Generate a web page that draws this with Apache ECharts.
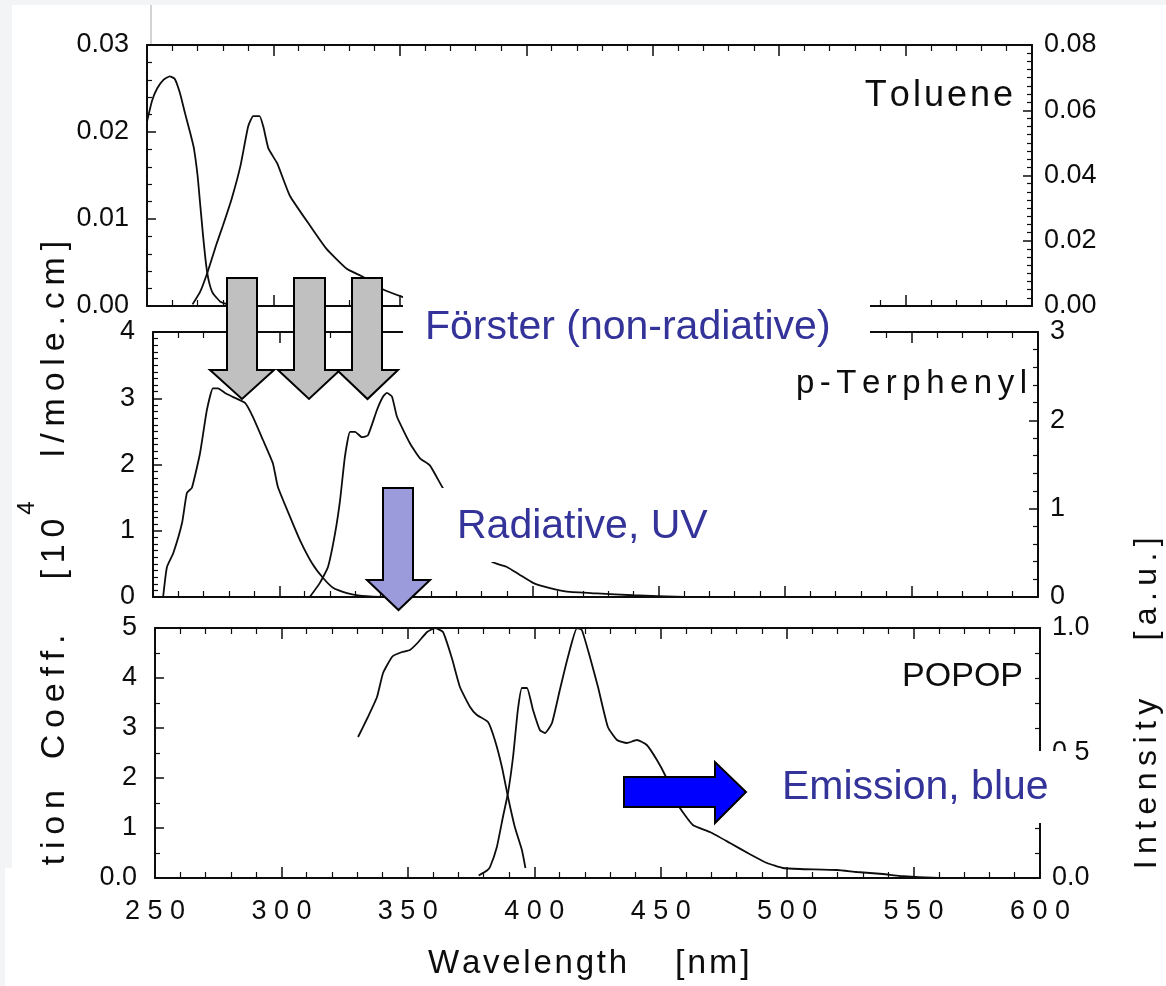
<!DOCTYPE html>
<html>
<head>
<meta charset="utf-8">
<title>Toluene / p-Terphenyl / POPOP spectra</title>
<script src="https://cdn.jsdelivr.net/npm/echarts@6/dist/echarts.min.js"></script>
<style>
  html, body { margin: 0; padding: 0; background: #f3f4f6; }
  #chart { width: 1166px; height: 986px; }
</style>
</head>
<body>
<div id="chart"></div>
<script>
// tick labels
const wavelengthTicks = ['2 5 0', '3 0 0', '3 5 0', '4 0 0', '4 5 0', '5 0 0', '5 5 0', '6 0 0']
const tolueneAbsTicks = ['0.00', '0.01', '0.02', '0.03']
const tolueneEmTicks = ['0.00', '0.02', '0.04', '0.06', '0.08']
const terphenylAbsTicks = ['0', '1', '2', '3', '4']
const terphenylEmTicks = ['0', '1', '2', '3']
const popopAbsTicks = ['0.0', '1', '2', '3', '4', '5']
const popopEmTicks = ['0.0', '0.5', '1.0']

// [wavelength nm, value]
const tolueneAbs = [[250, 0.0212], [252, 0.0236], [254, 0.025], [256.5, 0.026], [259, 0.0264], [261, 0.0261],
  [263, 0.0245], [265, 0.0222], [267, 0.02], [268.5, 0.0182], [270, 0.015], [271, 0.0118], [272.2, 0.008],
  [273.4, 0.0047], [274.5, 0.0028], [276, 0.0015], [279, 0.0005], [283, 0.0001], [290, 0]]
const tolueneEm = [[268, 0.0005], [271, 0.0043], [274, 0.0105], [277.5, 0.019], [280, 0.0246], [283.5, 0.0329],
  [287, 0.0431], [290, 0.055], [292, 0.0582], [294.5, 0.0582], [296, 0.055], [298, 0.0483], [301.5, 0.0437],
  [306.5, 0.0338], [314.5, 0.0246], [321, 0.0175], [329, 0.0114], [335.5, 0.0089], [343, 0.0052],
  [351, 0.0028], [358, 0.0012], [365, 0.0004], [375, 0]]
const terphenylAbs = [[254, 0], [255.5, 0.45], [258, 0.66], [261.5, 1.12], [263.4, 1.57], [265.4, 1.65],
  [268.6, 2.17], [271.3, 2.82], [273.7, 3.15], [275.7, 3.15], [278.5, 3.08], [281.6, 3.02], [286.4, 2.93],
  [289.5, 2.72], [293.5, 2.37], [297.4, 2.02], [299.4, 1.66], [304.2, 1.21], [308.1, 0.86], [312.9, 0.51],
  [317.2, 0.29], [321.2, 0.14], [326.7, 0.06], [331.8, 0.02], [340, 0]]
const terphenylEm = [[312, 0], [316, 0.16], [319.2, 0.34], [322, 0.72], [324, 1.1], [325.9, 1.59], [327.9, 1.87],
  [329.9, 1.87], [332.6, 1.81], [335, 1.83], [338.6, 2.12], [341, 2.27], [342.5, 2.31], [344.5, 2.27],
  [346.5, 2.04], [351.6, 1.74], [355.6, 1.57], [359.5, 1.49], [364.7, 1.23], [374, 0.83], [384, 0.4],
  [390, 0.34], [395.1, 0.25], [400.3, 0.16], [407, 0.1], [413.7, 0.06], [425.6, 0.04], [439.8, 0.02], [460, 0]]
const popopAbs = [[330.3, 2.82], [334.2, 3.22], [337.8, 3.62], [340.2, 4.1], [343.9, 4.43], [347.7, 4.52],
  [350.8, 4.56], [353.8, 4.7], [357.6, 4.92], [360.7, 5.0], [363.9, 4.92], [367.4, 4.4], [370.6, 3.82],
  [374.6, 3.42], [377.3, 3.26], [381.7, 3.12], [384.4, 2.76], [387.2, 2.22], [389.6, 1.62], [392.3, 1.02],
  [395.1, 0.56], [396.5, 0.2]]
const popopEm = [[378, 0.01], [381.3, 0.03], [382.5, 0.044], [385.2, 0.124], [387.6, 0.244], [389.6, 0.34],
  [391.6, 0.484], [393.5, 0.672], [395.1, 0.76], [397.1, 0.76], [399.5, 0.672], [402.2, 0.592], [404.2, 0.58],
  [407, 0.62], [410.1, 0.752], [413.3, 0.884], [416.9, 1.0], [418.8, 0.992], [422, 0.884], [425.2, 0.764],
  [429.1, 0.604], [432.7, 0.552], [436.6, 0.54], [440.6, 0.552], [444.5, 0.532], [448.5, 0.472], [451.7, 0.412],
  [454.5, 0.34], [457.6, 0.28], [462.7, 0.212], [469.5, 0.184], [477.4, 0.14], [485.3, 0.095], [492, 0.06],
  [498.3, 0.04], [505, 0.036], [519.7, 0.032], [527.6, 0.024], [537.9, 0.016], [544.6, 0.008], [560, 0]]

const INK = '#0d0d0d'
const NOTE = '#333399'
const FONT = '"Liberation Sans", Arial, Helvetica, sans-serif'
const THIN = '\u2009'
const SIXTH = '\u2006'
const HAIR = '\u200A'

function spaced(s, gap) {
  return Array.from(s).join(gap)
}

function xAxisFor(grid, pos, showLabel) {
  return {
    type: 'value', gridIndex: grid, position: pos, min: 250, max: 600, interval: 50,
    axisLine: { onZero: false, lineStyle: { color: INK, width: 2 } },
    axisTick: { inside: true, length: 11, lineStyle: { color: INK, width: 1.5 } },
    minorTick: { show: true, splitNumber: 5, length: 6, lineStyle: { color: INK, width: 1.2 } },
    splitLine: { show: false },
    axisLabel: showLabel ? {
      margin: 20, fontSize: 27, color: INK, fontFamily: FONT, hideOverlap: false,
      formatter: v => wavelengthTicks[Math.round((v - 250) / 50)]
    } : { show: false }
  }
}

function yAxisFor(grid, pos, max, interval, minorSplit, labels) {
  return {
    type: 'value', gridIndex: grid, position: pos, min: 0, max: max, interval: interval,
    axisLine: { onZero: false, lineStyle: { color: INK, width: 2 } },
    axisTick: { inside: true, length: 9, lineStyle: { color: INK, width: 1.5 } },
    minorTick: { show: true, splitNumber: minorSplit, length: 5, lineStyle: { color: INK, width: 1.2 } },
    splitLine: { show: false },
    axisLabel: {
      margin: pos === 'left' ? 18 : 12, fontSize: 27, color: INK, fontFamily: FONT, hideOverlap: false,
      formatter: v => labels[Math.round(v / interval)]
    }
  }
}

function curve(data, xi, yi) {
  return {
    type: 'line', data: data, xAxisIndex: xi, yAxisIndex: yi,
    showSymbol: false, symbol: 'none', smooth: 0.15, silent: true,
    lineStyle: { color: INK, width: 1.8 }
  }
}

function label(text, x, y, size, color, align, extra) {
  return Object.assign({
    type: 'text', x: x, y: y, z: 110, silent: true,
    style: {
      text: text, font: size + 'px ' + FONT, fill: color,
      align: align, textAlign: align, verticalAlign: 'middle', textVerticalAlign: 'middle'
    }
  }, extra || {})
}

function downArrow(sx1, sx2, top, headY, hx1, hx2, tip, fill) {
  const tx = (hx1 + hx2) / 2
  return {
    type: 'polygon', z: 100, silent: true,
    shape: { points: [[sx1, top], [sx2, top], [sx2, headY], [hx2, headY], [tx, tip], [hx1, headY], [sx1, headY]] },
    style: { fill: fill, stroke: '#000', lineWidth: 2, lineJoin: 'miter' }
  }
}

function whiteBox(x, y, w, h, z) {
  return { type: 'rect', z: z, silent: true, shape: { x: x, y: y, width: w, height: h }, style: { fill: '#fff' } }
}

const rot = { rotation: Math.PI / 2 }

const chart = echarts.init(document.getElementById('chart'))
chart.setOption({
  backgroundColor: '#f3f4f6',
  animation: false,
  grid: [
    { left: 147, top: 45, width: 885, height: 261, outerBoundsMode: 'none' },
    { left: 153, top: 332, width: 885, height: 265, outerBoundsMode: 'none' },
    { left: 155, top: 628, width: 885, height: 250, outerBoundsMode: 'none' }
  ],
  xAxis: [
    xAxisFor(0, 'bottom', false), xAxisFor(0, 'top', false),
    xAxisFor(1, 'bottom', false), xAxisFor(1, 'top', false),
    xAxisFor(2, 'bottom', true), xAxisFor(2, 'top', false)
  ],
  yAxis: [
    yAxisFor(0, 'left', 0.03, 0.01, 5, tolueneAbsTicks),
    yAxisFor(0, 'right', 0.08, 0.02, 8, tolueneEmTicks),
    yAxisFor(1, 'left', 4, 1, 10, terphenylAbsTicks),
    yAxisFor(1, 'right', 3, 1, 5, terphenylEmTicks),
    yAxisFor(2, 'left', 5, 1, 2, popopAbsTicks),
    yAxisFor(2, 'right', 1, 0.5, 5, popopEmTicks)
  ],
  series: [
    curve(tolueneAbs, 0, 0), curve(tolueneEm, 0, 1),
    curve(terphenylAbs, 2, 2), curve(terphenylEm, 2, 3),
    curve(popopAbs, 4, 4), curve(popopEm, 4, 5)
  ],
  graphic: {
    elements: [
      // paper of the scanned figure
      { type: 'rect', z: -100, silent: true, shape: { x: 12, y: 5, width: 1154, height: 981 }, style: { fill: '#fff' } },
      { type: 'line', z: -50, silent: true, shape: { x1: 151, y1: 5, x2: 151, y2: 44 }, style: { stroke: '#c4c4c4', lineWidth: 1.5 } },

      // panel names
      label(spaced('Toluene', HAIR), 1013, 96, 36, INK, 'right'),
      label(spaced('p-Terphenyl', SIXTH), 1027, 384, 33, INK, 'right'),
      label('POPOP', 1023, 677, 34, INK, 'right'),

      // axis titles
      label(spaced('Wavelength', HAIR), 428, 964, 33, INK, 'left'),
      label(spaced('[nm]', HAIR), 675, 964, 34, INK, 'left'),
      label(spaced('Extinction', THIN), 55, 790, 34, INK, 'right', rot),
      label(spaced('Coeff.', THIN), 55, 697, 34, INK, 'center', rot),
      label(spaced('[10', THIN), 55, 549, 34, INK, 'center', rot),
      label('4', 27, 508, 24, INK, 'center', rot),
      label(spaced('l/mole.cm]', THIN), 55, 349, 34, INK, 'center', rot),
      label(spaced('Intensity', THIN), 1147, 784, 32, INK, 'center', rot),
      label(spaced('[a.u.]', THIN), 1147, 589, 32, INK, 'center', rot),
      whiteBox(5, 868, 93, 118, 120),

      // energy transfer overlay
      whiteBox(403, 284, 467, 76, 90),
      downArrow(227, 257, 278, 370, 210, 274, 399, '#c0c0c0'),
      downArrow(294, 325, 278, 370, 278, 340, 399, '#c0c0c0'),
      downArrow(352, 382, 278, 370, 337, 398, 399, '#c0c0c0'),
      label('Förster (non-radiative)', 425, 328, 41, NOTE, 'left'),

      whiteBox(413, 488, 317, 74, 90),
      downArrow(383, 413, 488, 580, 367, 430, 610, '#9b9bdc'),
      label('Radiative, UV', 457, 527, 41, NOTE, 'left'),

      whiteBox(750, 751, 324, 72, 90),
      {
        type: 'polygon', z: 100, silent: true,
        shape: { points: [[624, 777], [715, 777], [715, 762], [746, 792], [715, 823], [715, 807], [624, 807]] },
        style: { fill: '#0000ff', stroke: '#000', lineWidth: 2, lineJoin: 'miter' }
      },
      label('Emission, blue', 782, 788, 41, NOTE, 'left')
    ]
  }
})
</script>
</body>
</html>
